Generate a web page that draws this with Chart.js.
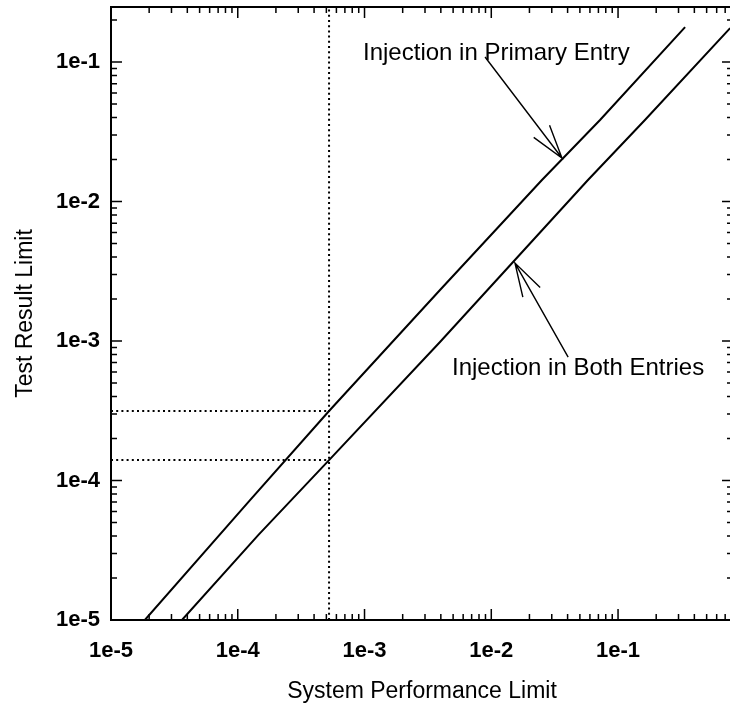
<!DOCTYPE html>
<html><head><meta charset="utf-8">
<script src="https://cdn.jsdelivr.net/npm/chart.js@4/dist/chart.umd.min.js"></script>
<style>
html,body{margin:0;padding:0;background:#fff;overflow:hidden;width:730px;height:706px}
#wrap{width:736px;height:706px}
</style>
</head><body><div id="wrap"><canvas id="c" width="736" height="706"></canvas></div>
<script>
// Curve data
const primaryX = [1.85e-5, 1.25e-4, 5.25e-4, 3.94e-3, 0.0251, 0.0721, 0.338];
const primaryY = [1e-5, 7.24e-5, 3.15e-4, 2.32e-3, 0.01426, 0.0384, 0.178];
const bothX = [3.63e-5, 1.45e-4, 5.25e-4, 3.94e-3, 0.0579, 0.163, 0.766];
const bothY = [1e-5, 4.06e-5, 1.40e-4, 9.84e-4, 0.01426, 0.0384, 0.175];

// Reference (dotted) lines
const refX = 5.25e-4;
const refYPrimary = 3.15e-4;
const refYBoth = 1.40e-4;

// Axes
const xMin = 1e-5, xMax = 0.807;
const yMin = 1e-5, yMax = 0.248;
const xTickValues = [1e-5, 1e-4, 1e-3, 1e-2, 1e-1];
const xTickLabels = ['1e-5', '1e-4', '1e-3', '1e-2', '1e-1'];
const yTickValues = [1e-5, 1e-4, 1e-3, 1e-2, 1e-1];
const yTickLabels = ['1e-5', '1e-4', '1e-3', '1e-2', '1e-1'];
const xTitle = 'System Performance Limit';
const yTitle = 'Test Result Limit';

// Annotations (data coordinates)
const annotations = [
  {text: 'Injection in Primary Entry', textX: 9.73e-4, textY: 0.104, tailX: 8.93e-3, tailY: 0.1086, tipX: 0.0361, tipY: 0.0205},
  {text: 'Injection in Both Entries', textX: 4.90e-3, textY: 5.70e-4, tailX: 0.0404, tailY: 7.67e-4, tipX: 0.01538, tipY: 3.62e-3}
];

const FONT = '"Liberation Sans", Arial, Helvetica, sans-serif';
const toPts = (xs, ys) => xs.map((v, i) => ({x: v, y: ys[i]}));

const framePlugin = {
  id: 'frame',
  afterDraw(chart) {
    const {ctx, chartArea: a, scales} = chart;
    const sx = scales.x, sy = scales.y;
    ctx.save();
    ctx.strokeStyle = '#000';
    ctx.lineWidth = 2;
    ctx.beginPath();
    ctx.rect(a.left, a.top, a.right - a.left, a.bottom - a.top);
    ctx.stroke();
    const tickVals = (min, max) => {
      const out = [];
      const lo = Math.floor(Math.log10(min)), hi = Math.ceil(Math.log10(max));
      for (let d = lo; d <= hi; d++) for (let m = 1; m <= 9; m++) {
        const v = m * Math.pow(10, d);
        if (v >= min * 0.9999 && v <= max) out.push([v, m === 1]);
      }
      return out;
    };
    ctx.lineWidth = 1.5;
    ctx.beginPath();
    for (const [v, major] of tickVals(sx.min, sx.max)) {
      const p = sx.getPixelForValue(v);
      const L = major ? 11 : 6;
      ctx.moveTo(p, a.bottom); ctx.lineTo(p, a.bottom - L);
      ctx.moveTo(p, a.top); ctx.lineTo(p, a.top + L);
    }
    for (const [v, major] of tickVals(sy.min, sy.max)) {
      const p = sy.getPixelForValue(v);
      const L = major ? 11 : 6;
      ctx.moveTo(a.left, p); ctx.lineTo(a.left + L, p);
      ctx.moveTo(a.right, p); ctx.lineTo(a.right - L, p);
    }
    ctx.stroke();

    // annotations
    ctx.fillStyle = '#000';
    ctx.font = '24px ' + FONT;
    ctx.textBaseline = 'alphabetic';
    ctx.textAlign = 'left';
    ctx.lineWidth = 1.4;
    for (const an of annotations) {
      ctx.fillText(an.text, sx.getPixelForValue(an.textX), sy.getPixelForValue(an.textY));
      const tx = sx.getPixelForValue(an.tipX), ty = sy.getPixelForValue(an.tipY);
      const lx = sx.getPixelForValue(an.tailX), ly = sy.getPixelForValue(an.tailY);
      const th = Math.atan2(ly - ty, lx - tx);
      const hl = 35, ha = 16.5 * Math.PI / 180;
      ctx.beginPath();
      ctx.moveTo(lx, ly); ctx.lineTo(tx, ty);
      ctx.moveTo(tx + hl * Math.cos(th + ha), ty + hl * Math.sin(th + ha));
      ctx.lineTo(tx, ty);
      ctx.lineTo(tx + hl * Math.cos(th - ha), ty + hl * Math.sin(th - ha));
      ctx.stroke();
    }
    ctx.restore();
  }
};

const lineDs = (data) => ({data, borderColor: '#000', borderWidth: 2, pointRadius: 0, tension: 0, fill: false});
const dotDs = (data) => ({data, borderColor: '#000', borderWidth: 2, borderDash: [2, 3.2], pointRadius: 0, tension: 0, fill: false});

new Chart(document.getElementById('c'), {
  type: 'line',
  data: {
    datasets: [
      lineDs(toPts(primaryX, primaryY)),
      lineDs(toPts(bothX, bothY)),
      dotDs([{x: refX, y: yMin}, {x: refX, y: yMax}]),
      dotDs([{x: xMin, y: refYPrimary}, {x: refX, y: refYPrimary}]),
      dotDs([{x: xMin, y: refYBoth}, {x: refX, y: refYBoth}])
    ]
  },
  options: {
    responsive: false,
    animation: false,
    parsing: true,
    layout: {padding: {top: 7, right: 3, bottom: 0, left: 0}},
    plugins: {legend: {display: false}, tooltip: {enabled: false}},
    scales: {
      x: {
        type: 'logarithmic', min: xMin, max: xMax,
        afterBuildTicks: s => { s.ticks = xTickValues.map(v => ({value: v})); },
        afterFit: s => { s.height = 86; s.paddingLeft = 0; s.paddingRight = 0; },
        grid: {display: false, drawTicks: false},
        border: {display: false},
        ticks: {
          autoSkip: false, maxRotation: 0, minRotation: 0, padding: 18, color: '#000',
          font: {family: FONT, size: 22, weight: 'bold'},
          callback: (v, i) => xTickLabels[i]
        },
        title: {display: true, text: xTitle, color: '#000', font: {family: FONT, size: 23}, padding: {top: 0, bottom: 1}}
      },
      y: {
        type: 'logarithmic', min: yMin, max: yMax,
        afterBuildTicks: s => { s.ticks = yTickValues.map(v => ({value: v})); },
        afterFit: s => { s.width = 111; s.paddingTop = 0; s.paddingBottom = 0; },
        grid: {display: false, drawTicks: false},
        border: {display: false},
        ticks: {
          autoSkip: false, padding: 11, color: '#000',
          font: {family: FONT, size: 22, weight: 'bold'},
          callback: (v, i) => yTickLabels[i]
        },
        title: {display: true, text: yTitle, color: '#000', font: {family: FONT, size: 23}, padding: {top: 12, bottom: 0}}
      }
    }
  },
  plugins: [framePlugin]
});
</script>
</body></html>
